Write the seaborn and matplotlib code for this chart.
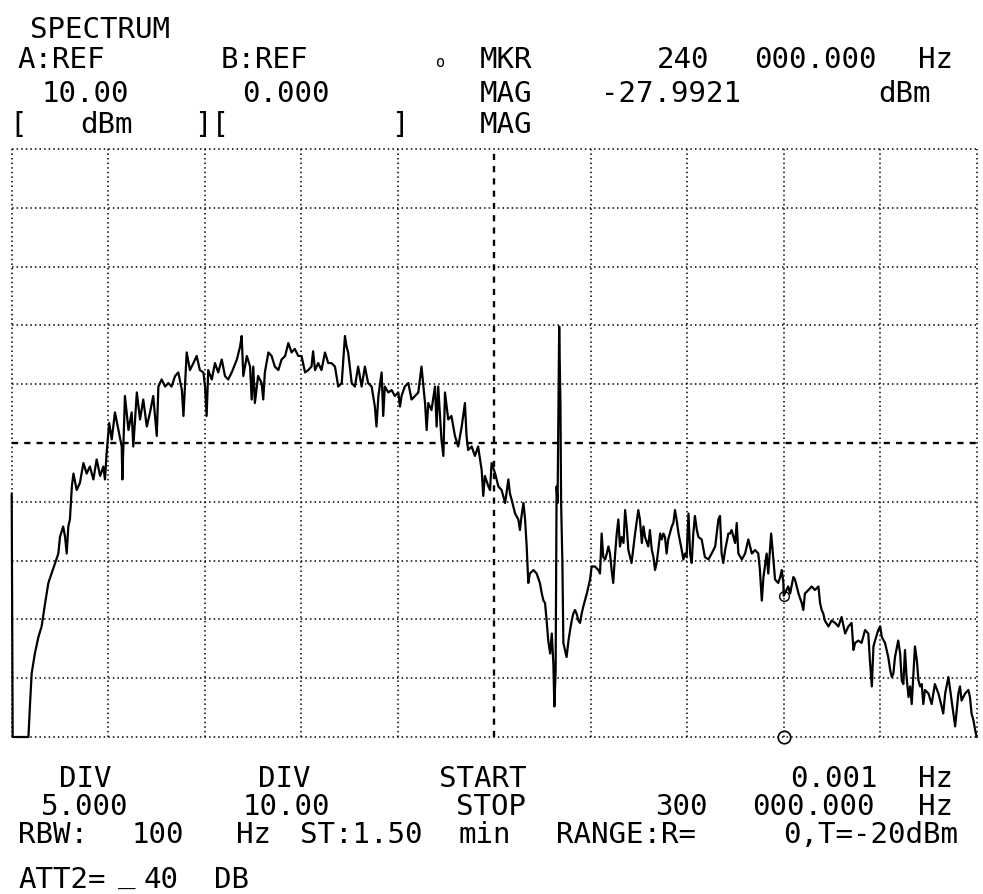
import matplotlib
matplotlib.use("Agg")
import matplotlib.pyplot as plt
import pandas as pd
import seaborn as sns

# ---------------------------------------------------------------- settings
REF_A_DBM = 10.0          # A:REF level at the top graticule line
REF_B = 0.0
DIV_A_DB = 5.0
DIV_B = 10.0
START_HZ = 0.001
STOP_HZ = 300000.0
MARKER_HZ = 240000.0
MARKER_DBM = -27.9921

# ---------------------------------------------------------------- trace, 0 - 75 kHz
freq_a_khz = [0.0, 0.3, 5.2, 5.7, 6.2, 7.2, 8.3, 9.3, 10.4, 11.4,
              12.4, 13.5, 14.5, 15.0, 16.0, 16.6, 17.1, 17.6, 18.1, 18.7,
              19.2, 20.2, 21.2, 22.3, 23.3, 24.3, 25.4, 26.4, 27.5, 28.5,
              29.0, 29.5, 30.3, 31.1, 32.1, 33.2, 34.2, 34.4, 35.2, 36.3,
              37.3, 37.8, 38.9, 39.9, 40.9, 42.0, 43.0, 44.0, 45.1, 45.6,
              46.6, 47.7, 48.7, 49.7, 50.8, 51.8, 52.9, 53.4, 54.4, 55.4,
              56.5, 57.5, 58.5, 59.6, 60.1, 60.6, 61.1, 62.2, 63.2, 64.2,
              65.3, 66.3, 67.3, 68.4, 70.0, 71.0, 71.5, 72.0, 73.1, 74.1]
level_a_dbm = [-19.3, -40.0, -40.0, -37.2, -34.6, -32.9, -31.5, -30.6, -28.6, -26.9,
               -26.1, -25.2, -24.4, -23.0, -22.1, -23.0, -24.4, -22.1, -21.5, -18.7,
               -17.6, -19.0, -18.4, -16.7, -17.6, -17.0, -18.1, -16.4, -17.8, -17.0,
               -18.1, -15.9, -13.3, -14.7, -12.4, -13.9, -15.3, -18.1, -11.0, -13.9,
               -12.4, -15.3, -10.7, -13.0, -11.3, -13.6, -12.4, -11.0, -14.4, -10.2,
               -9.6, -10.2, -9.9, -10.2, -9.3, -9.0, -10.5, -12.7, -7.3, -8.8,
               -8.2, -7.6, -8.8, -9.0, -10.2, -12.7, -8.8, -9.6, -8.2, -9.0,
               -7.9, -9.3, -9.6, -9.0, -7.9, -6.8, -5.9, -9.3, -7.6, -8.5]

# ---------------------------------------------------------------- trace, 75 - 149 kHz
freq_b_khz = [74.6, 75.1, 75.6, 76.6, 77.7, 78.2, 78.7, 79.8, 80.8, 81.8,
              82.9, 83.9, 85.0, 86.0, 87.0, 88.0, 89.1, 90.1, 91.2, 92.2,
              93.2, 93.7, 94.3, 95.3, 96.3, 97.4, 98.4, 99.4, 100.5, 101.5,
              102.6, 103.6, 104.1, 104.6, 105.7, 106.7, 107.7, 108.8, 109.8, 110.8,
              111.9, 112.9, 113.4, 114.0, 115.0, 115.5, 116.0, 117.1, 118.1, 119.1,
              120.2, 120.7, 121.2, 122.2, 123.3, 124.3, 125.4, 126.4, 127.4, 128.5,
              129.0, 129.5, 130.5, 131.6, 132.1, 132.6, 133.6, 134.2, 134.7, 135.7,
              136.7, 137.8, 138.8, 139.9, 140.9, 141.4, 141.9, 143.0, 144.0, 145.0,
              145.6, 146.1, 146.6, 147.1, 148.2, 148.7]
level_b_dbm = [-11.3, -8.5, -11.6, -9.3, -9.9, -11.3, -9.0, -7.3, -7.6, -8.5,
               -8.8, -7.9, -7.6, -6.5, -7.3, -7.0, -7.6, -7.6, -9.0, -8.8,
               -8.5, -7.2, -8.8, -8.2, -8.8, -7.3, -8.2, -8.2, -8.5, -10.2,
               -9.9, -5.9, -6.8, -7.3, -9.9, -10.2, -8.5, -10.2, -8.5, -9.9,
               -10.2, -11.9, -13.6, -11.0, -9.0, -12.7, -10.2, -10.7, -10.5, -11.0,
               -10.7, -11.9, -11.0, -10.2, -9.9, -11.3, -11.0, -10.7, -8.5, -11.6,
               -13.9, -11.6, -12.2, -10.2, -13.6, -10.2, -14.7, -16.1, -10.7, -13.0,
               -12.7, -14.4, -15.3, -13.6, -11.6, -14.4, -15.6, -15.3, -16.1, -15.3,
               -16.4, -17.3, -19.5, -17.8, -18.7, -19.0]

# ---------------------------------------------------------------- trace, 149 - 224 kHz (notch and carrier)
freq_c_khz = [149.2, 150.3, 151.3, 152.3, 153.4, 154.4, 154.9, 155.4, 156.5, 157.5,
              158.0, 158.5, 159.1, 159.6, 160.1, 160.6, 161.1, 162.2, 163.2, 164.2,
              164.8, 165.3, 165.8, 166.3, 166.8, 167.4, 167.9, 168.4, 168.7, 169.1,
              169.4, 169.7, 170.2, 170.6, 170.8, 171.2, 171.5, 172.0, 172.5, 173.1,
              173.6, 174.1, 174.6, 175.1, 175.6, 176.2, 176.7, 177.2, 177.7, 178.2,
              178.8, 179.3, 179.8, 180.3, 181.3, 182.4, 182.9, 183.4, 183.9, 184.5,
              185.0, 185.5, 186.0, 186.5, 187.0, 187.6, 188.1, 188.6, 189.1, 189.6,
              190.2, 190.7, 191.2, 191.7, 192.7, 193.3, 193.8, 194.8, 195.3, 195.9,
              196.4, 196.9, 197.9, 198.4, 199.0, 199.5, 200.0, 200.5, 201.0, 201.6,
              202.1, 202.6, 203.1, 203.6, 204.1, 205.2, 205.7, 206.2, 206.7, 207.3,
              208.3, 208.8, 209.3, 209.8, 210.4, 210.9, 211.4, 211.9, 212.4, 213.0,
              213.5, 214.5, 215.5, 216.6, 217.6, 218.7, 219.7, 220.2, 220.7, 221.2,
              221.8, 222.8, 223.3]
level_c_dbm = [-16.7, -17.6, -18.7, -19.0, -20.1, -18.1, -19.3, -19.8, -21.0, -21.5,
               -22.4, -21.2, -20.1, -21.5, -23.8, -26.9, -26.1, -25.8, -26.1, -26.9,
               -27.8, -28.4, -28.6, -30.1, -31.8, -32.9, -31.2, -33.8, -37.4, -34.3,
               -18.7, -20.1, -5.1, -11.9, -20.1, -25.2, -32.0, -32.6, -33.2, -31.8,
               -30.9, -30.1, -29.5, -29.2, -29.5, -30.1, -30.3, -29.5, -28.9, -28.4,
               -27.8, -27.2, -26.6, -25.5, -25.5, -25.8, -26.1, -22.7, -24.7, -24.9,
               -24.4, -23.8, -24.4, -25.8, -26.9, -24.4, -22.7, -21.5, -23.8, -23.0,
               -23.5, -20.7, -22.1, -24.1, -25.2, -23.8, -22.7, -20.7, -21.5, -23.5,
               -22.1, -23.0, -23.8, -22.4, -24.1, -24.7, -25.8, -25.2, -24.1, -22.7,
               -23.2, -22.7, -23.0, -24.4, -23.2, -22.1, -21.8, -20.7, -21.5, -22.7,
               -24.1, -24.9, -24.4, -24.7, -21.0, -24.4, -25.2, -22.7, -21.2, -22.4,
               -23.0, -23.2, -24.7, -24.9, -24.4, -23.8, -21.5, -21.2, -24.4, -25.2,
               -24.1, -22.7, -22.7]

# ---------------------------------------------------------------- trace, 224 - 300 kHz
freq_d_khz = [223.8, 224.9, 225.4, 225.9, 227.0, 228.0, 229.0, 230.1, 231.1, 232.1,
              232.6, 233.2, 233.7, 234.7, 235.2, 236.1, 236.8, 237.3, 238.3, 238.9,
              239.4, 239.9, 240.0, 241.4, 242.0, 243.0, 243.5, 244.6, 245.6, 246.1,
              246.6, 247.7, 248.7, 249.7, 250.8, 251.3, 251.8, 252.3, 252.8, 253.9,
              254.9, 256.0, 257.0, 258.0, 259.1, 260.1, 261.1, 261.7, 262.2, 263.2,
              264.2, 265.3, 266.3, 266.8, 267.4, 267.9, 268.4, 269.4, 270.0, 270.5,
              271.5, 272.5, 273.1, 273.6, 274.1, 274.6, 275.6, 276.2, 276.7, 277.2,
              277.7, 278.2, 278.8, 279.3, 279.8, 280.8, 281.4, 281.9, 282.4, 282.9,
              283.4, 283.9, 285.0, 286.0, 287.0, 288.1, 289.1, 289.6, 290.2, 291.2,
              292.2, 293.3, 293.8, 294.3, 294.8, 295.3, 296.4, 297.4, 297.9, 298.4,
              299.0, 299.5, 300.0]
level_d_dbm = [-22.4, -23.5, -21.8, -24.4, -24.9, -24.4, -23.2, -24.4, -24.1, -24.4,
               -25.8, -28.4, -26.4, -24.4, -26.1, -22.7, -24.9, -26.6, -26.9, -26.4,
               -25.8, -26.9, -27.9921, -27.2, -27.8, -26.4, -26.6, -27.8, -28.6, -29.2,
               -27.8, -27.5, -27.2, -27.5, -27.2, -28.6, -29.2, -29.5, -30.1, -30.6,
               -30.1, -30.3, -30.6, -29.8, -31.2, -30.6, -30.3, -32.6, -32.0, -31.8,
               -32.0, -30.9, -31.2, -33.5, -35.7, -32.3, -31.8, -30.9, -30.6, -31.5,
               -32.0, -33.2, -34.3, -34.9, -34.6, -33.2, -31.8, -32.9, -35.2, -35.5,
               -32.6, -34.9, -36.6, -35.7, -37.2, -32.3, -33.5, -35.2, -35.7, -35.5,
               -37.2, -36.0, -36.3, -37.2, -35.5, -36.3, -37.4, -38.0, -36.3, -34.9,
               -36.9, -39.1, -37.7, -36.3, -35.7, -36.9, -36.3, -36.0, -36.6, -38.0,
               -38.6, -39.4, -40.0]


def hz_text(v):
    """Frequency in the analyser's grouped style, e.g. 240 000.000."""
    return f"{v:,.3f}".replace(",", " ")


# ---------------------------------------------------------------- figure
W, H = 983, 894
sns.set_theme(style="white")
plt.rcParams["font.family"] = ["DejaVu Sans Mono", "DejaVu Sans"]
plt.rcParams["axes.facecolor"] = "white"

fig = plt.figure(figsize=(W / 100, H / 100), dpi=100)
fig.patch.set_facecolor("white")

# graticule rectangle in pixels
GX0, GX1, GY0, GY1 = 11.7, 976.7, 149.0, 737.0
ax = fig.add_axes([GX0 / W, 1 - GY1 / H, (GX1 - GX0) / W, (GY1 - GY0) / H])
ax.set_axis_off()

start_khz = 0.0
stop_khz = STOP_HZ / 1000.0
bottom_dbm = REF_A_DBM - 10 * DIV_A_DB
ax.set_xlim(start_khz, stop_khz)
ax.set_ylim(bottom_dbm, REF_A_DBM)

# dotted 10 x 10 graticule, centre lines dashed
dot = (0, (1.0, 2.0))
dash = (0, (2.6, 2.6))
xstep = (stop_khz - start_khz) / 10
for i in range(11):
    fx = start_khz + i * xstep
    ly = bottom_dbm + i * DIV_A_DB
    centre = (i == 5)
    ax.axvline(fx, color="black", lw=1.7 if centre else 1.1,
               ls=dash if centre else dot, clip_on=False, zorder=1)
    ax.axhline(ly, color="black", lw=1.7 if centre else 1.1,
               ls=dash if centre else dot, clip_on=False, zorder=1)

# spectrum trace
trace = pd.DataFrame({
    "freq_khz": freq_a_khz + freq_b_khz + freq_c_khz + freq_d_khz,
    "level_dbm": level_a_dbm + level_b_dbm + level_c_dbm + level_d_dbm,
})
sns.lineplot(data=trace, x="freq_khz", y="level_dbm", ax=ax, color="black",
             lw=1.6, estimator=None, sort=False, clip_on=False, zorder=3)

# marker on the trace and its foot on the bottom line
mk_khz = MARKER_HZ / 1000.0
ax.plot([mk_khz], [MARKER_DBM], marker="o", ms=7, mfc="none", mec="black",
        mew=1.0, clip_on=False, zorder=4)
ax.plot([mk_khz], [bottom_dbm], marker="o", ms=9, mfc="none", mec="black",
        mew=1.2, clip_on=False, zorder=4)

# ---------------------------------------------------------------- annotation text
FS = 21


def put(txt, left, right, base, fs=FS):
    fig.text((left + right) / 2 / W, 1 - base / H, txt, ha="center",
             va="baseline", fontsize=fs, color="black")


header = [
    (38, [("SPECTRUM", 13, 187)]),
    (68, [("A:REF", 13, 110), ("B:REF", 213, 315), ("MKR", 473, 538),
          (hz_text(MARKER_HZ).split()[0], 653, 713),
          (hz_text(MARKER_HZ).split()[1], 740, 890), ("Hz", 917, 953)]),
    (102, [(f"{REF_A_DBM:.2f}", 38, 133), (f"{REF_B:.3f}", 235, 337),
           ("MAG", 473, 538), (f"{MARKER_DBM:.4f}", 590, 753), ("dBm", 875, 935)]),
    (133, [("[", 13, 23), ("dBm", 80, 133), ("][", 197, 227), ("]", 397, 403),
           ("MAG", 473, 538)]),
]
footer = [
    (787, [("DIV", 55, 115), ("DIV", 253, 315), ("START", 432, 533),
           (f"{START_HZ:.3f}", 783, 885), ("Hz", 917, 953)]),
    (815, [(f"{DIV_A_DB:.3f}", 32, 137), (f"{DIV_B:.2f}", 235, 337),
           ("STOP", 450, 533), (hz_text(STOP_HZ).split()[0], 653, 710),
           (hz_text(STOP_HZ).split()[1], 738, 888), ("Hz", 917, 953)]),
    (843, [("RBW:", 10, 95), ("100", 115, 200), ("Hz", 235, 273),
           ("ST:1.50", 293, 430), ("min", 460, 510), ("RANGE:R=", 542, 710),
           ("0,T=-20dBm", 762, 980)]),
    (888, [("ATT2=", 12, 112), ("40", 147, 175), ("DB", 213, 250)]),
]
for base, tokens in header + footer:
    for txt, left, right in tokens:
        put(txt, left, right, base)

# small circle marker symbol ahead of MKR
put("o", 436, 446, 67, fs=11)
# low dash between "=" and "40" on the attenuator line
put("_", 118, 136, 883)

fig.savefig("out.png", dpi=100, facecolor="white")
